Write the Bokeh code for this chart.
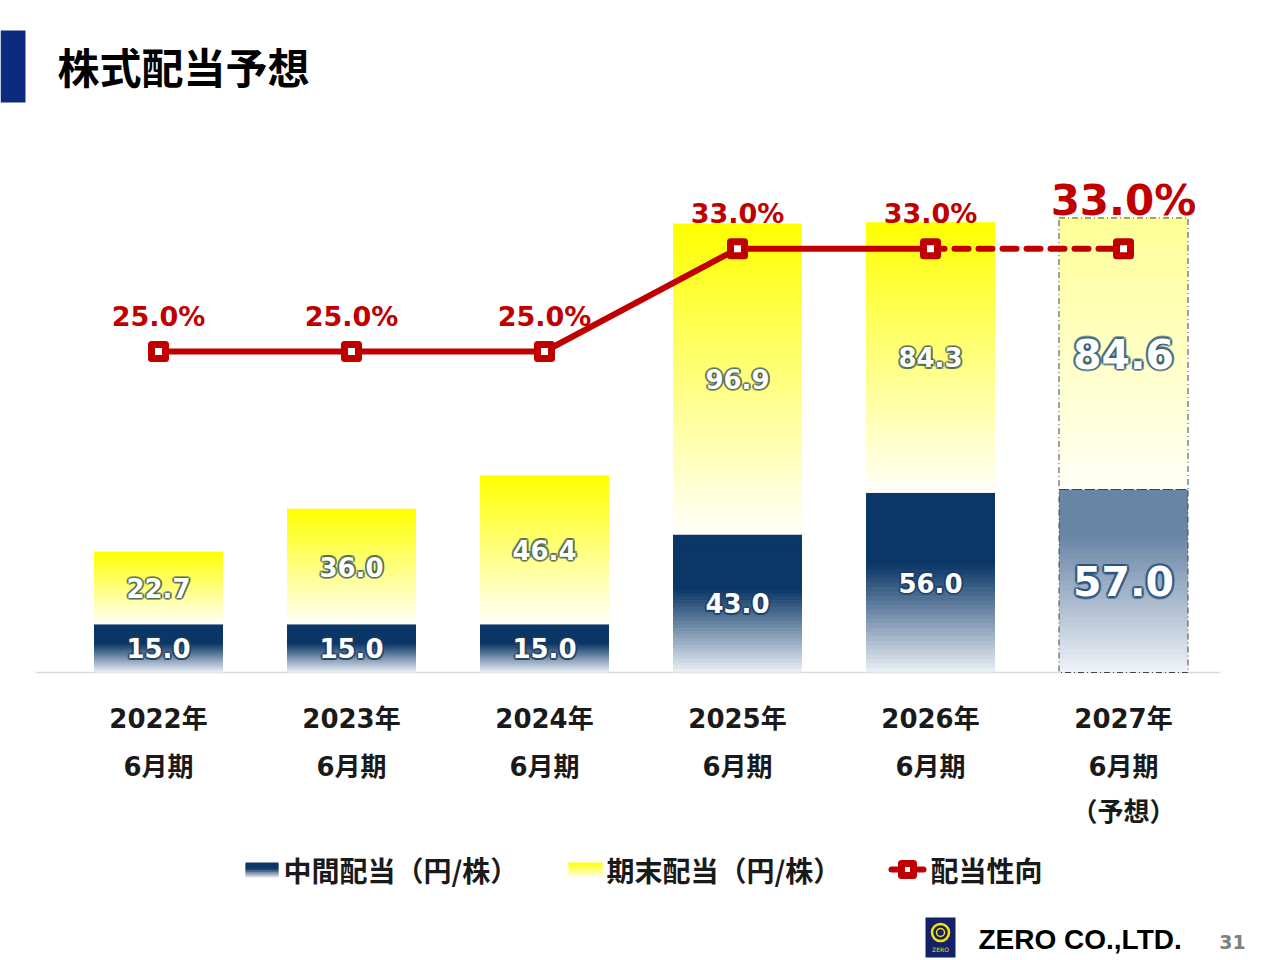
from bokeh.plotting import figure
from bokeh.models import Range1d
from bokeh.core.properties import value
from bokeh.embed import file_html
from bokeh.resources import INLINE

# --- data ---
years = ["2022年", "2023年", "2024年", "2025年", "2026年", "2027年"]
periods = ["6月期", "6月期", "6月期", "6月期", "6月期", "6月期"]
notes = ["", "", "", "", "", "（予想）"]
interim = [15.0, 15.0, 15.0, 43.0, 56.0, 57.0]      # 中間配当（円/株）
year_end = [22.7, 36.0, 46.4, 96.9, 84.3, 84.6]     # 期末配当（円/株）
payout = [25.0, 25.0, 25.0, 33.0, 33.0, 33.0]       # 配当性向（%）
forecast = [False, False, False, False, False, True]

JP = "Noto Sans CJK JP"
MIX = "DejaVu Sans, Noto Sans CJK JP"
NUM = "DejaVu Sans"
RED = "#c00000"

W, H = 1280, 960
STEP = 193.0          # px between categories
KY = 3.21             # px per yen
KR = 4 * KY           # px per payout point
X0, Y0 = 158, 672     # first category centre / baseline, in slide pixels


def dx(px):
    return (px - X0) / STEP


def dy(py):
    return (Y0 - py) / KY


def blend(c1, c2, t):
    return "#%02x%02x%02x" % tuple(int(round(a + (b - a) * t)) for a, b in zip(c1, c2))


def strips(xs, lows, highs, c_top, c_bot, solid, n=40):
    # one bar = n thin slices, colour fading from c_top to c_bot
    out = dict(x=[], bottom=[], top=[], color=[])
    for xi, lo, hi in zip(xs, lows, highs):
        h = hi - lo
        for j in range(n):
            f = (j + 0.5) / n
            g = 0.0 if f < solid else (f - solid) / (1 - solid)
            over = 1.0 / KY if j < n - 1 else 0.0
            out["x"].append(xi)
            out["top"].append(hi - h * j / n)
            out["bottom"].append(hi - h * (j + 1) / n - over)
            out["color"].append(blend(c_top, c_bot, g))
    return out


def glow_text(xs, ys, texts, size, glow, r=2.0):
    kw = dict(text_font=value(NUM), text_font_style="bold", text_font_size=value(size),
              text_align="center", text_baseline="middle")
    for ox, oy in [(r, 0), (-r, 0), (0, r), (0, -r), (r * .7, r * .7), (-r * .7, r * .7),
                   (r * .7, -r * .7), (-r * .7, -r * .7)]:
        p.text(x=xs, y=ys, text=texts, x_offset=ox, y_offset=oy, text_color=glow, text_alpha=0.55, **kw)
    p.text(x=xs, y=ys, text=texts, text_color="white", **kw)


p = figure(width=W, height=H, output_backend="svg", toolbar_location=None,
           x_range=Range1d(dx(0), dx(W)), y_range=Range1d(dy(H), dy(0)),
           x_axis_location=None, y_axis_location=None, min_border=0)
p.extra_y_ranges = {"ratio": Range1d(dy(H) * KY / KR, dy(0) * KY / KR)}
p.grid.visible = False
p.outline_line_color = None
p.background_fill_color = "white"

xs = list(range(len(years)))
act = [i for i in xs if not forecast[i]]
fc = [i for i in xs if forecast[i]]
totals = [a + b for a, b in zip(interim, year_end)]
BW = 129 / STEP

# baseline
p.segment(x0=[dx(35)], y0=[0], x1=[dx(1220)], y1=[0], line_color="#d9d9d9", line_width=1.5)

# bars (gradient faked with thin slices)
segs = [
    strips(act, [0] * len(act), [interim[i] for i in act], (11, 55, 103), (236, 241, 247), 0.4),
    strips(act, [interim[i] for i in act], [totals[i] for i in act], (255, 255, 0), (255, 255, 250), 0.0),
    strips(fc, [0] * len(fc), [interim[i] for i in fc], (104, 133, 166), (240, 243, 248), 0.25),
    strips(fc, [interim[i] for i in fc], [totals[i] for i in fc], (255, 255, 150), (255, 255, 245), 0.0),
]
for s in segs:
    p.vbar(x="x", bottom="bottom", top="top", width=BW, source=s, fill_color="color", line_color=None)

# forecast outline
p.quad(left=[i - BW / 2 for i in fc] * 2, right=[i + BW / 2 for i in fc] * 2,
       bottom=[0 for i in fc] + [interim[i] for i in fc],
       top=[interim[i] for i in fc] + [totals[i] for i in fc],
       fill_color=None, line_color="#444444", line_width=1, line_dash="6 3 1 3")

# value labels
glow_text(act, [interim[i] / 2 for i in act], ["%.1f" % interim[i] for i in act], "26px", "#1d3c60")
glow_text(act, [interim[i] + year_end[i] / 2 for i in act], ["%.1f" % year_end[i] for i in act], "26px", "#3f5e4c")
glow_text(fc, [interim[i] / 2 for i in fc], ["%.1f" % interim[i] for i in fc], "41px", "#234d78", r=2.5)
glow_text(fc, [interim[i] + year_end[i] / 2 for i in fc], ["%.1f" % year_end[i] for i in fc], "41px", "#2f5677", r=2.5)

# payout ratio line
p.line(x=xs[:5], y=payout[:5], y_range_name="ratio", line_color=RED, line_width=6, line_join="round")
p.line(x=xs[4:], y=payout[4:], y_range_name="ratio", line_color=RED, line_width=6,
       line_dash="14 10", line_cap="round")
p.scatter(x=xs, y=payout, y_range_name="ratio", marker="square", size=14,
          line_color=RED, line_width=7, line_join="round", fill_color="white")
p.text(x=act, y=[payout[i] + 35 / KR for i in act], text=["%.1f%%" % payout[i] for i in act],
       y_range_name="ratio", text_font=value(NUM), text_font_style="bold", text_font_size=value("27px"),
       text_color=RED, text_align="center", text_baseline="middle")
p.text(x=fc, y=[payout[i] + 48 / KR for i in fc], text=["%.1f%%" % payout[i] for i in fc],
       y_range_name="ratio", text_font=value(NUM), text_font_style="bold", text_font_size=value("42px"),
       text_color=RED, text_align="center", text_baseline="middle")

# category labels
for labels, py in [(years, 718), (periods, 766), (notes, 811)]:
    p.text(x=xs, y=[dy(py)] * len(xs), text=labels, text_font=value(MIX), text_font_style="bold",
           text_font_size=value("26px"), text_color="#1a1a1a", text_align="center", text_baseline="middle")

# title
p.quad(left=[dx(0)], right=[dx(25)], top=[dy(30)], bottom=[dy(102)], fill_color="#0c2b7e", line_color=None)
p.text(x=[dx(57)], y=[dy(65)], text=["株式配当予想"], text_font=value(JP), text_font_style="bold",
       text_font_size=value("42px"), text_color="black", text_baseline="middle")

# legend
lg = strips([dx(261.5)], [dy(877)], [dy(862)], (11, 55, 103), (236, 241, 247), 0.4, n=8)
p.vbar(x="x", bottom="bottom", top="top", width=33 / STEP, source=lg, fill_color="color", line_color=None)
lg = strips([dx(585)], [dy(877)], [dy(862)], (255, 255, 0), (255, 255, 240), 0.0, n=8)
p.vbar(x="x", bottom="bottom", top="top", width=34 / STEP, source=lg, fill_color="color", line_color=None)
p.segment(x0=[dx(891)], y0=[dy(869)], x1=[dx(923)], y1=[dy(869)], line_color=RED, line_width=6, line_cap="round")
p.scatter(x=[dx(907)], y=[dy(869)], marker="square", size=12, line_color=RED, line_width=7,
          line_join="round", fill_color="white")
p.text(x=[dx(283), dx(606), dx(930)], y=[dy(869)] * 3,
       text=["中間配当（円/株）", "期末配当（円/株）", "配当性向"], text_font=value(JP), text_font_style="bold",
       text_font_size=value("28px"), text_color="#1a1a1a", text_baseline="middle")

# footer
p.quad(left=[dx(925)], right=[dx(955)], top=[dy(917)], bottom=[dy(957)], fill_color="#14206a", line_color=None)
p.scatter(x=[dx(940)], y=[dy(932)], marker="circle", size=17, line_color="#f2e600", line_width=2.5, fill_color=None)
p.scatter(x=[dx(940)], y=[dy(932)], marker="circle", size=8, line_color="#f2e600", line_width=1.5, fill_color=None)
p.text(x=[dx(940)], y=[dy(949)], text=["ZERO"], text_font=value(NUM), text_font_size=value("6px"),
       text_color="#f2e600", text_align="center", text_baseline="middle")
p.text(x=[dx(978)], y=[dy(939)], text=["ZERO CO.,LTD."], text_font=value("Liberation Sans"),
       text_font_style="bold", text_font_size=value("28px"), text_color="black", text_baseline="middle")
p.text(x=[dx(1232)], y=[dy(941)], text=["31"], text_font=value(NUM), text_font_style="bold",
       text_font_size=value("19px"), text_color="#808080", text_align="center", text_baseline="middle")

open("out.html", "w").write(file_html(p, INLINE))
